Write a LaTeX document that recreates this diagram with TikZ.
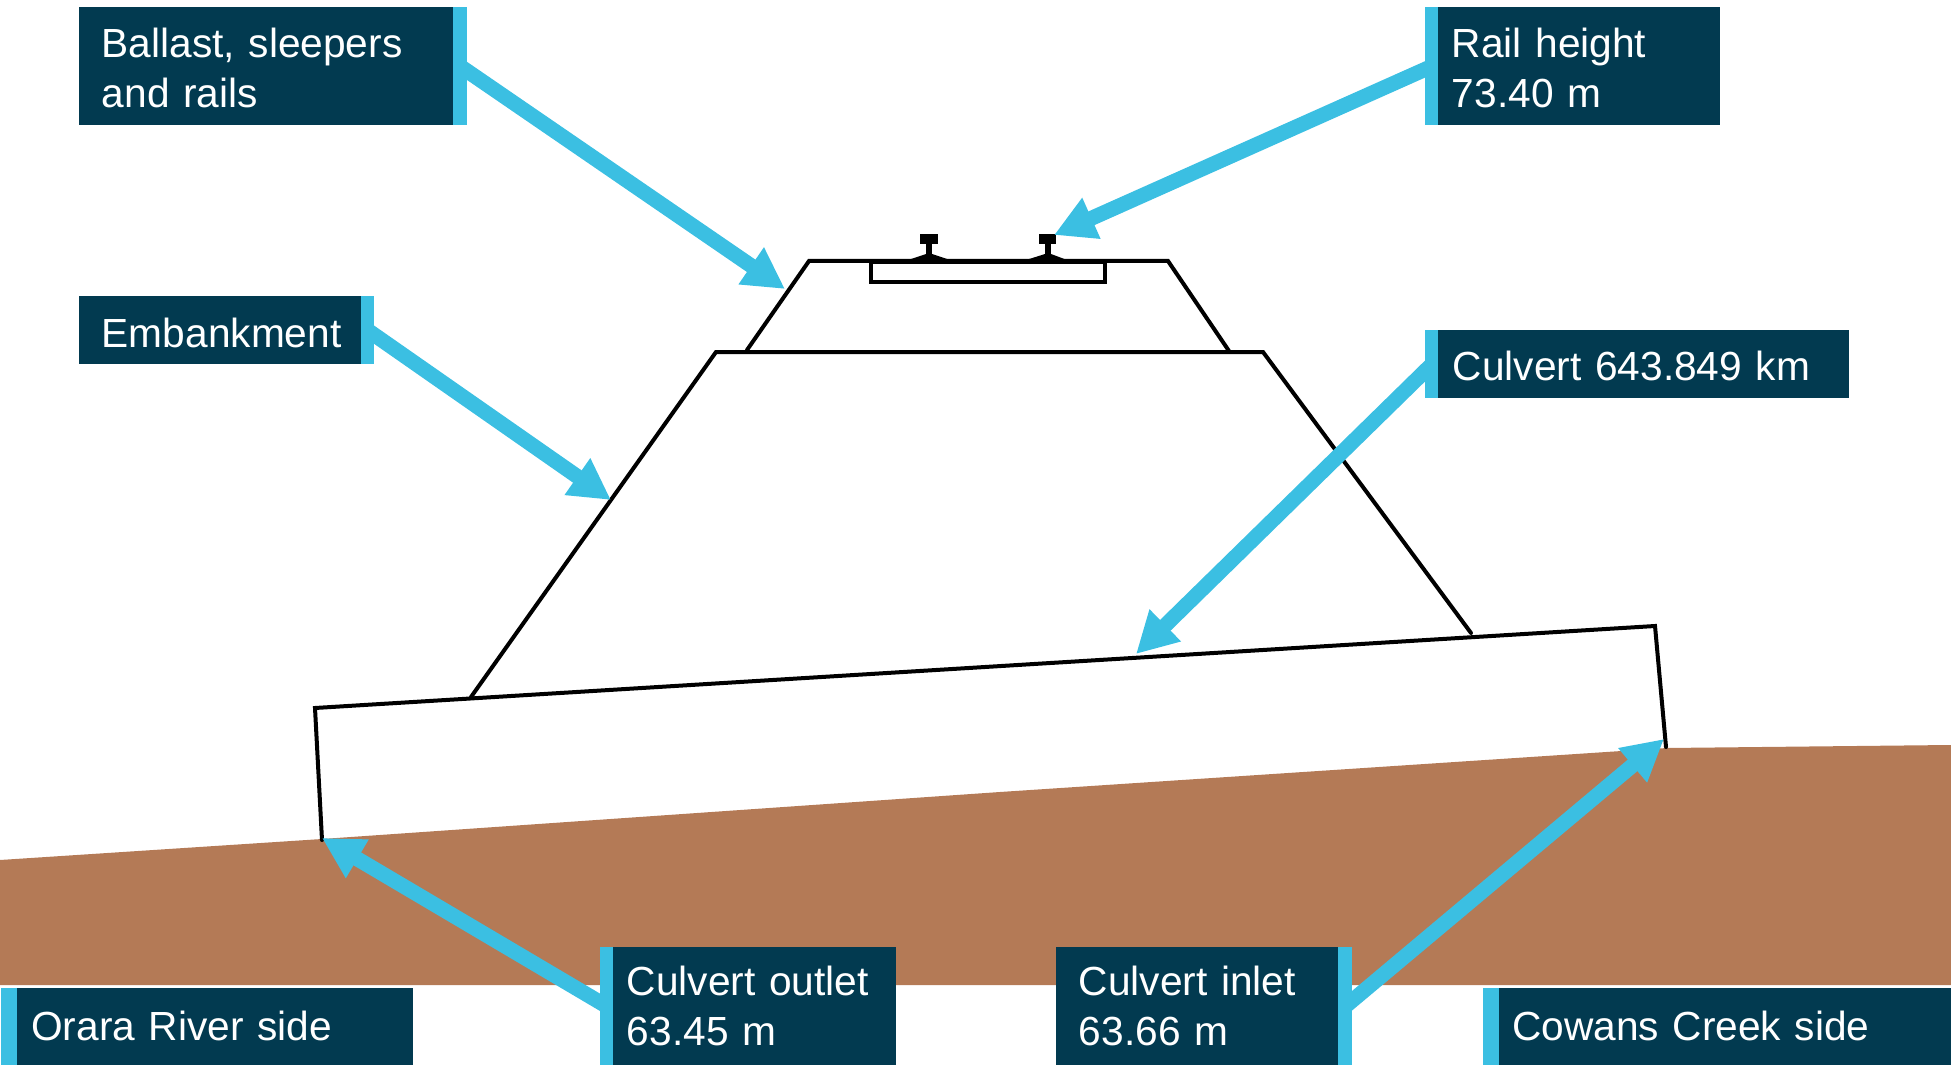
\documentclass[tikz,border=0pt]{standalone}
\usepackage{fontspec}
\setmainfont{Liberation Sans}
\usetikzlibrary{arrows.meta}
\definecolor{darkbox}{HTML}{023A50}
\definecolor{barblue}{HTML}{3BBFE2}
\definecolor{ground}{HTML}{B47A56}
\tikzset{
  x=0.02cm, y=-0.02cm,
  labelbox/.style={fill=darkbox, text=white, anchor=north west, inner ysep=0pt, align=left,
    font=\fontsize{23.15}{28.45}\selectfont},
  barbox/.style={fill=barblue, anchor=north west, inner sep=0pt, minimum width=#1},
  callout/.style={draw=barblue, line width=0.3cm, -{Triangle[length=0.82cm,width=0.84cm]}},
  outline/.style={draw=black, line width=0.08cm, line cap=round, line join=miter},
  thinout/.style={draw=black, line width=0.065cm},
  railpart/.style={fill=black}
}
\begin{document}
\begin{tikzpicture}
\useasboundingbox (0,0) rectangle (1951,1081);
% ground
\fill[ground] (0,860) -- (322,839) -- (1000,792) -- (1667,748) -- (1951,745) -- (1951,985) -- (0,985) -- cycle;
% coordinates
\coordinate (cTL) at (315,708);
\coordinate (cTR) at (1655,626);
\coordinate (cBR) at (1666,747);
\coordinate (cBL) at (322,840);
\coordinate (eBL) at (471,697);
\coordinate (eTL) at (716,352);
\coordinate (eTR) at (1263,352);
\coordinate (eBR) at (1471,633);
\coordinate (bBL) at (747,350);
\coordinate (bTL) at (809,261);
\coordinate (bTR) at (1168,261);
\coordinate (bBR) at (1229,351);
\coordinate (tipBallast) at (785,289);
\coordinate (tipRail) at (1054,235);
\coordinate (tipEmb) at (611,500);
\coordinate (tipCulvert) at (1136,654);
\coordinate (tipOutlet) at (322,838);
\coordinate (tipInlet) at (1664,739);
% culvert, embankment, ballast
\draw[outline] (cBL) -- (cTL) -- (cTR) -- (cBR);
\draw[outline] (eBL) -- (eTL) -- (eTR) -- (eBR);
\draw[outline] (bBL) -- (bTL) -- (bTR) -- (bBR);
% sleeper
\draw[thinout] (871,262) rectangle (1105,282);
% rails
\fill[railpart] (920,234) rectangle (938,244);
\fill[railpart] (926,244) rectangle (932,255);
\fill[railpart] (908,260) -- (926,254) -- (932,254) -- (950,260) -- cycle;
\fill[railpart] (1039,234) rectangle (1056,244);
\fill[railpart] (1045,244) rectangle (1051,255);
\fill[railpart] (1026,260) -- (1045,254) -- (1051,254) -- (1067,260) -- cycle;
\fill[railpart] (871,259) rectangle (1105,264);
% label boxes
\node[labelbox, minimum width=7.48cm, minimum height=2.36cm, text width=6.58cm, inner xsep=0.45cm, text height=1.0cm, text depth=1.36cm] (ballast) at (79,7) {Ballast, sleepers\\and rails};
\node[barbox=0.28cm, minimum height=2.36cm] (ballastbar) at (453,7) {};
\node[labelbox, minimum width=5.66cm, minimum height=2.36cm, text width=5.08cm, inner xsep=0.29cm, text height=1.0cm, text depth=1.36cm] (rail) at (1437,7) {Rail height\\73.40 m};
\node[barbox=0.26cm, minimum height=2.36cm] (railbar) at (1425,7) {};
\node[labelbox, minimum width=5.64cm, minimum height=1.36cm, text width=4.74cm, inner xsep=0.45cm, text height=1.02cm, text depth=0.34cm] (emb) at (79,296) {Embankment};
\node[barbox=0.26cm, minimum height=1.36cm] (embbar) at (361,296) {};
\node[labelbox, minimum width=8.22cm, minimum height=1.36cm, text width=7.64cm, inner xsep=0.29cm, text height=1.0cm, text depth=0.36cm] (culvert) at (1438,330) {Culvert 643.849 km};
\node[barbox=0.26cm, minimum height=1.36cm] (culvertbar) at (1425,330) {};
\node[labelbox, minimum width=7.92cm, minimum height=1.54cm, text width=7.36cm, inner xsep=0.28cm, text height=1.04cm, text depth=0.5cm] (orara) at (17,988) {Orara River side};
\node[barbox=0.32cm, minimum height=1.54cm] (orarabar) at (1,988) {};
\node[labelbox, minimum width=5.66cm, minimum height=2.36cm, text width=5.12cm, inner xsep=0.27cm, text height=0.96cm, text depth=1.4cm] (outlet) at (613,947) {Culvert outlet\\63.45 m};
\node[barbox=0.26cm, minimum height=2.36cm] (outletbar) at (600,947) {};
\node[labelbox, minimum width=5.64cm, minimum height=2.36cm, text width=4.74cm, inner xsep=0.45cm, text height=0.96cm, text depth=1.4cm] (inlet) at (1056,947) {Culvert inlet\\63.66 m};
\node[barbox=0.28cm, minimum height=2.36cm] (inletbar) at (1338,947) {};
\node[labelbox, minimum width=9.04cm, minimum height=1.54cm, text width=8.52cm, inner xsep=0.26cm, text height=1.04cm, text depth=0.5cm] (cowans) at (1499,988) {Cowans Creek side};
\node[barbox=0.32cm, minimum height=1.54cm] (cowansbar) at (1483,988) {};
% callout arrows
\draw[callout] (ballastbar.center) -- (tipBallast);
\draw[callout] (railbar.center) -- (tipRail);
\draw[callout] (embbar.center) -- (tipEmb);
\draw[callout] (culvertbar.center) -- (tipCulvert);
\draw[callout] (outletbar.center) -- (tipOutlet);
\draw[callout] (inletbar.center) -- (tipInlet);
\end{tikzpicture}
\end{document}
